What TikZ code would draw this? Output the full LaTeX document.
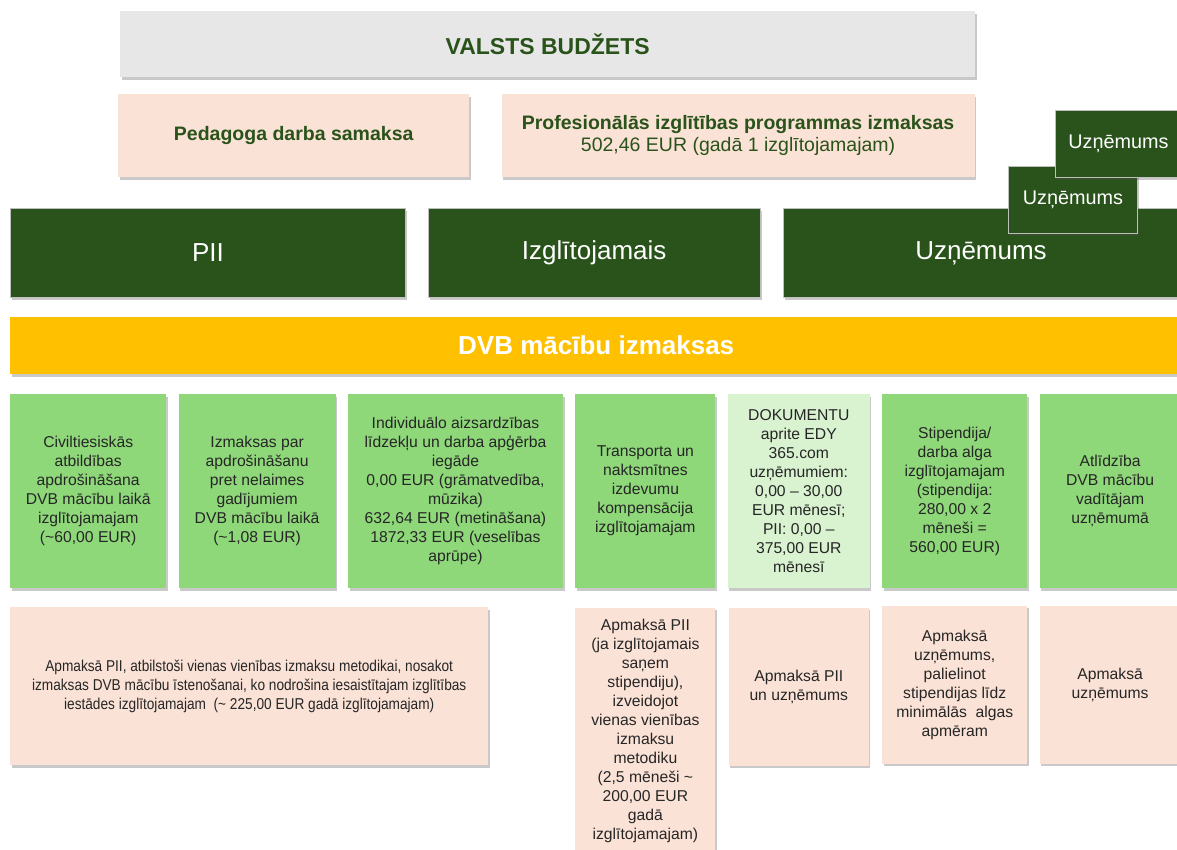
\documentclass[tikz,border=0pt]{standalone}
\usepackage{fontspec}
\setmainfont{Liberation Sans}
\newfontfamily\narrowSans[FakeStretch=0.87]{Liberation Sans}
\definecolor{dvbGreen}{RGB}{41,83,26}
\definecolor{costGreen}{RGB}{143,216,122}
\definecolor{costLight}{RGB}{217,242,208}
\definecolor{payPeach}{RGB}{251,226,214}
\definecolor{budgetGray}{RGB}{231,231,231}
\definecolor{barOrange}{RGB}{255,192,0}
\definecolor{boxText}{RGB}{38,38,38}
\usetikzlibrary{calc,shapes,positioning,shadows}

\begin{document}
\begin{tikzpicture}[x=1pt,y=-1pt,node distance=19pt and 12pt,
          boxShadow/.style={
            drop shadow={shadow xshift=1.5pt,shadow yshift=-2.5pt,opacity=.3,fill=black!70}},
          budgetBox/.style={
            rectangle,
            fill=budgetGray,
            text=dvbGreen,
            font=\fontsize{23}{27}\selectfont\bfseries,
            boxShadow},
          payBox/.style={
            rectangle,
            align=center,
            fill=payPeach,
            text=dvbGreen,
            minimum height=83pt,
            font=\fontsize{19.5}{22}\selectfont,
            boxShadow},
          actorBox/.style={
            rectangle,
            fill=dvbGreen,
            draw=black!25,
            line width=.8pt,
            text=white,
            minimum height=89pt,
            font=\fontsize{26}{30}\selectfont,
            boxShadow},
          actorSmall/.style={
            actorBox,
            minimum height=67pt,
            font=\fontsize{19.8}{23}\selectfont},
          costBar/.style={
            rectangle,
            fill=barOrange,
            text=white,
            minimum height=57pt,
            font=\fontsize{26}{30}\selectfont\bfseries,
            boxShadow},
          costBox/.style={
            rectangle,
            align=center,
            fill=costGreen,
            text=boxText,
            minimum height=194pt,
            font=\fontsize{15.7}{19}\selectfont,
            boxShadow},
          payRow/.style={
            rectangle,
            align=center,
            fill=payPeach,
            text=boxText,
            minimum height=158pt,
            font=\fontsize{15.7}{19}\selectfont,
            boxShadow} ]

          \clip (0,0) rectangle (1177,850);

          % budget and what it pays
          \node[budgetBox, anchor=north west, minimum width=855pt, minimum height=66pt] (budget) at (120,11) {VALSTS BUDŽETS};
          \node[payBox, anchor=north west, minimum width=351pt] (teacherPay) at (118,94) {\bfseries Pedagoga darba samaksa};
          \node[payBox, right=32pt of teacherPay, minimum width=473pt] (programCost) {\textbf{Profesionālās izglītības programmas izmaksas}\\502,46 EUR (gadā 1 izglītojamajam)};

          % actors
          \node[actorBox, anchor=north west, minimum width=395pt] (pii) at (10,208) {PII};
          \node[actorBox, right=22pt of pii, minimum width=332pt] (learner) {Izglītojamais};
          \node[actorBox, right=22pt of learner, minimum width=396pt] (company) {Uzņēmums};
          \node[actorSmall, anchor=north west, minimum width=129pt] (companyB) at (1008,166) {Uzņēmums};
          \node[actorSmall, anchor=north west, minimum width=126pt] (companyC) at (1055,110) {Uzņēmums};

          \node[costBar, anchor=north west, minimum width=1172pt] (dvbCost) at (10,317) {DVB mācību izmaksas};

          % cost items
          \node[costBox, anchor=north west, minimum width=156pt] (cost1) at (10,394) {Civiltiesiskās\\atbildības\\apdrošināšana\\DVB mācību laikā\\izglītojamajam\\(\textasciitilde60,00 EUR)};
          \node[costBox, right=of cost1, minimum width=157pt] (cost2) {Izmaksas par\\apdrošināšanu\\pret nelaimes\\gadījumiem\\DVB mācību laikā\\(\textasciitilde1,08 EUR)};
          \node[costBox, right=of cost2, minimum width=215pt] (cost3) {Individuālo aizsardzības\\līdzekļu un darba apģērba\\iegāde\\0,00 EUR (grāmatvedība,\\mūzika)\\632,64 EUR (metināšana)\\1872,33 EUR (veselības\\aprūpe)};
          \node[costBox, right=of cost3, minimum width=140pt] (cost4) {Transporta un\\naktsmītnes\\izdevumu\\kompensācija\\izglītojamajam};
          \node[costBox, right=of cost4, fill=costLight, minimum width=142pt] (cost5) {DOKUMENTU\\aprite EDY\\365.com\\uzņēmumiem:\\0,00 – 30,00\\EUR mēnesī;\\PII: 0,00 –\\375,00 EUR\\mēnesī};
          \node[costBox, right=of cost5, minimum width=145pt] (cost6) {Stipendija/\\darba alga\\izglītojamajam\\(stipendija:\\280,00 x 2\\mēneši =\\560,00 EUR)};
          \node[costBox, right=of cost6, minimum width=141pt] (cost7) {Atlīdzība\\DVB mācību\\vadītājam\\uzņēmumā};

          % who pays
          \node[payRow, anchor=north west, minimum width=478pt, font=\fontsize{15.7}{19}\narrowSans] (pay1) at (10,607) {Apmaksā PII, atbilstoši vienas vienības izmaksu metodikai, nosakot\\izmaksas DVB mācību īstenošanai, ko nodrošina iesaistītajam izglītības\\iestādes izglītojamajam\ \ (\textasciitilde{} 225,00 EUR gadā izglītojamajam)};
          \node[payRow, below=of cost4, minimum width=140pt, minimum height=246pt] (pay2) {Apmaksā PII\\(ja izglītojamais\\saņem\\stipendiju),\\izveidojot\\vienas vienības\\izmaksu\\metodiku\\(2,5 mēneši \textasciitilde\\200,00 EUR\\gadā\\izglītojamajam)};
          \node[payRow, below=of cost5, minimum width=140pt] (pay3) {Apmaksā PII\\un uzņēmums};
          \node[payRow, below=17pt of cost6, minimum width=145pt] (pay4) {Apmaksā\\uzņēmums,\\palielinot\\stipendijas līdz\\minimālās\ \ algas\\apmēram};
          \node[payRow, below=17pt of cost7, minimum width=141pt] (pay5) {Apmaksā\\uzņēmums};
        \end{tikzpicture}
\end{document}
